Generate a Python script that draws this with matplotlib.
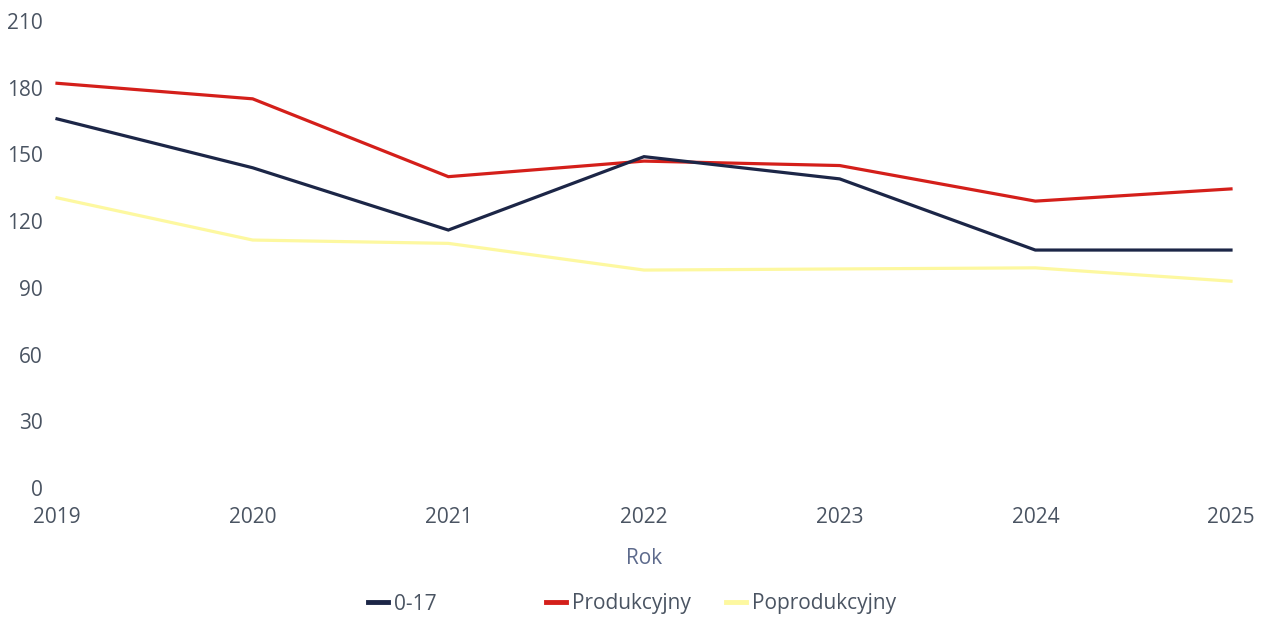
import matplotlib
matplotlib.use("Agg")
import matplotlib.pyplot as plt
from matplotlib.lines import Line2D

years = ["2019", "2020", "2021", "2022", "2023", "2024", "2025"]
s_0_17 = [166, 144, 116, 149, 139, 107, 107]
s_prod = [182, 175, 140, 147, 145, 129, 134.5]
s_poprod = [130.5, 111.5, 110, 98, 98.5, 99, 93]
y_ticks = [0, 30, 60, 90, 120, 150, 180, 210]

names = ["0-17", "Produkcyjny", "Poprodukcyjny"]
colors = ["#1c2647", "#d41f1a", "#fdf8a0"]

plt.rcParams['font.family'] = ['Open Sans', 'DejaVu Sans']
text_color = "#4a5462"
fs = 15

W, H = 1265, 618
fig = plt.figure(figsize=(W / 100, H / 100), dpi=100)
ax = fig.add_axes([57 / W, 1 - 488 / H, (1231 - 57) / W, (488 - 21) / H])

x = list(range(len(years)))
for vals, c in zip([s_poprod, s_prod, s_0_17], [colors[2], colors[1], colors[0]]):
    ax.plot(x, vals, color=c, lw=2.3, solid_joinstyle='miter', clip_on=False)

ax.set_xlim(0, len(years) - 1)
ax.set_ylim(0, 210)
ax.set_yticks(y_ticks)
ax.set_yticklabels([str(v) for v in y_ticks])
ax.set_xticks(x)
ax.set_xticklabels(years)
for s in ax.spines.values():
    s.set_visible(False)
ax.tick_params(axis='both', length=0, labelsize=fs, colors=text_color)
ax.tick_params(axis='y', pad=10)
ax.tick_params(axis='x', pad=14)
ax.set_xlabel("Rok", fontsize=fs, color="#5d6a8c", labelpad=14)

positions = [368, 546, 726]
for name, c, px in zip(names, colors, positions):
    h = Line2D([], [], color=c, lw=3.5)
    fig.legend(handles=[h], labels=[name], loc='center left',
               bbox_to_anchor=(px / W, 1 - 604 / H), frameon=False,
               handlelength=0.95, handletextpad=0.3, borderaxespad=0,
               borderpad=0, fontsize=fs, labelcolor=text_color)

fig.savefig("out.png", dpi=100)
